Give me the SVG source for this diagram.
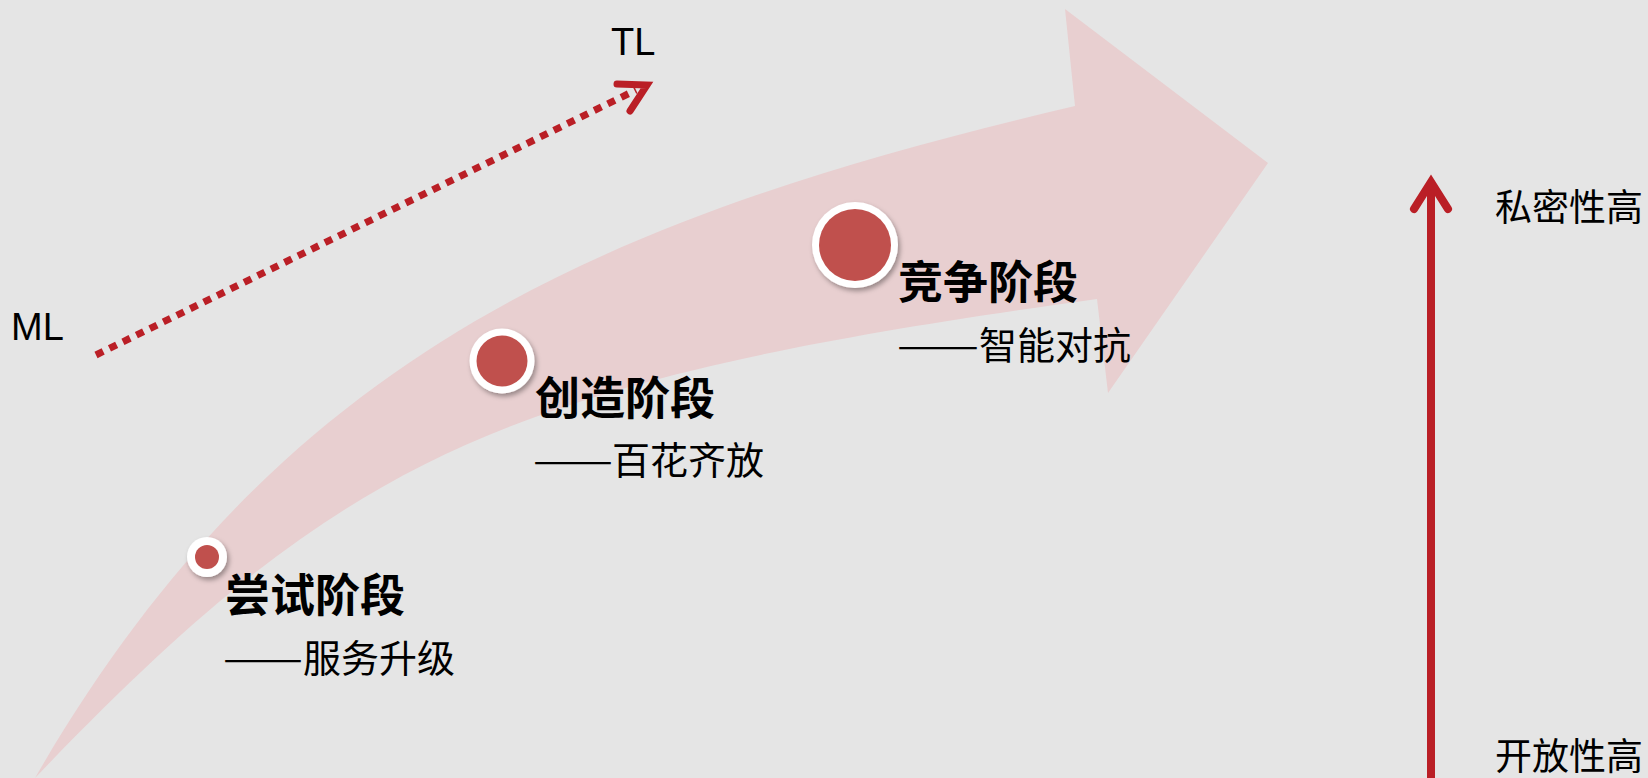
<svg xmlns="http://www.w3.org/2000/svg" width="1648" height="778" viewBox="0 0 1648 778">
<defs>
<style>
.lat{font-family:"Liberation Sans",Arial,sans-serif;font-size:38px;fill:#000}
.ttl{font-family:"Noto Sans CJK SC",sans-serif;font-size:45px;font-weight:bold;fill:#000}
.sub{font-family:"Noto Sans CJK SC",sans-serif;font-size:38px;fill:#000}
.ax{font-family:"Noto Sans CJK SC",sans-serif;font-size:37px;fill:#000}
.ring{fill:#fff;filter:url(#sh)}
.dot{fill:#C0504D}
.red{stroke:#BA1F26;fill:none}
</style>
<filter id="sh" x="-30%" y="-30%" width="160%" height="160%">
<feDropShadow dx="2" dy="3" stdDeviation="2.5" flood-color="#000" flood-opacity="0.35"/>
</filter>
</defs>
<rect x="0" y="0" width="1648" height="778" fill="#E5E5E5"/>
<g id="big-arrow">
<path fill="#E8CFD0" d="M35,778 C275,362 588,220 1075,106 L1065,9 L1268,163 L1108,393 L1097,299 C503,381 345.5,454 35,778 Z"/>
</g>
<g id="connectors">
<line class="red" x1="96" y1="355" x2="636" y2="90" stroke-width="7" stroke-dasharray="8 7"/>
<polyline class="red" points="617,84 647,85 630,111" stroke-width="7" stroke-linecap="round" stroke-linejoin="miter"/>
<line class="red" x1="1431" y1="790" x2="1431" y2="184" stroke-width="8"/>
<polyline class="red" points="1414,209 1431,182 1448,209" stroke-width="8" stroke-linecap="round" stroke-linejoin="miter"/>
</g>
<g id="label-TL"><text class="lat" x="611" y="55">TL</text></g>
<g id="label-ML"><text class="lat" x="11" y="340">ML</text></g>
<g id="stage-1">
<circle class="ring" cx="207" cy="557" r="20"/>
<circle class="dot" cx="207" cy="557" r="12"/>
<text class="ttl" x="225" y="612">尝试阶段</text>
<text class="sub" x="223" y="672" textLength="80" lengthAdjust="spacingAndGlyphs">——</text>
<text class="sub" x="303" y="672">服务升级</text>
</g>
<g id="stage-2">
<circle class="ring" cx="502" cy="361" r="32.5"/>
<circle class="dot" cx="502" cy="361" r="25.5"/>
<text class="ttl" x="535" y="415">创造阶段</text>
<text class="sub" x="533" y="474" textLength="80" lengthAdjust="spacingAndGlyphs">——</text>
<text class="sub" x="612" y="474">百花齐放</text>
</g>
<g id="stage-3">
<circle class="ring" cx="855" cy="245" r="43"/>
<circle class="dot" cx="855" cy="245" r="36"/>
<text class="ttl" x="898" y="299">竞争阶段</text>
<text class="sub" x="897" y="359" textLength="82" lengthAdjust="spacingAndGlyphs">——</text>
<text class="sub" x="979" y="359">智能对抗</text>
</g>
<g id="label-private"><text class="ax" x="1495" y="221">私密性高</text></g>
<g id="label-open"><text class="ax" x="1495" y="770">开放性高</text></g>
</svg>
